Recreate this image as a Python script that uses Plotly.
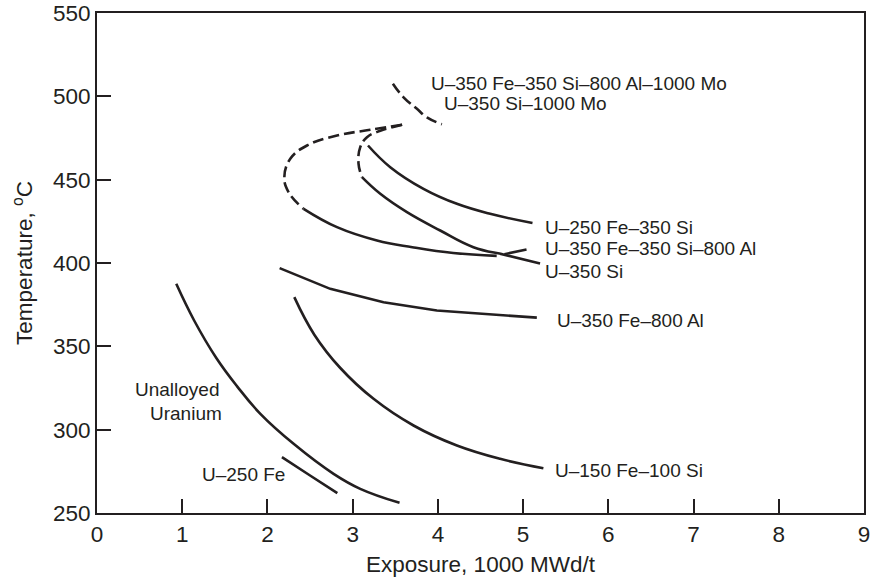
import plotly.graph_objects as go

# ---- data (exposure in 1000 MWd/t, temperature in degC) ----
unalloyed_x = [0.93, 1.14, 1.40, 1.644, 1.917, 2.307, 2.776, 3.089, 3.55]
unalloyed_y = [387.5, 365.5, 343.0, 326.0, 309.5, 291.5, 273.5, 264.5, 256.1]

u250fe_x = [2.17, 2.50, 2.82]
u250fe_y = [283.5, 272.5, 261.9]

u150fe100si_x = [2.315, 2.55, 2.855, 3.245, 3.714, 4.223, 4.73, 5.238]
u150fe100si_y = [379.5, 357.0, 337.0, 318.5, 302.5, 290.5, 282.5, 276.9]

u350fe800al_x = [2.143, 2.737, 3.362, 3.988, 5.161]
u350fe800al_y = [396.9, 384.5, 376.5, 371.5, 367.2]

# U-350 Fe-350 Si-800 Al: dashed extrapolation + solid part + end hook
alfe_dash_x = [3.58, 3.206, 2.816, 2.464, 2.268, 2.198, 2.249, 2.424]
alfe_dash_y = [483.0, 479.9, 476.5, 470.5, 462.5, 451.4, 442.4, 432.5]
alfe_solid_x = [2.424, 2.816, 3.285, 3.70, 4.18, 4.69]
alfe_solid_y = [432.5, 421.5, 413.5, 409.5, 406.0, 404.3]
alfe_hook_x = [4.78, 5.04]
alfe_hook_y = [405.3, 408.1]

# U-350 Si: dashed extrapolation + solid part
si_dash_x = [3.58, 3.324, 3.168, 3.089, 3.069, 3.109]
si_dash_y = [483.0, 479.3, 475.5, 469.5, 459.5, 451.5]
si_solid_x = [3.109, 3.324, 3.637, 4.027, 4.417, 4.80, 5.199]
si_solid_y = [451.5, 441.5, 430.5, 419.5, 409.5, 404.7, 399.7]

# U-250 Fe-350 Si
fesi_x = [3.18, 3.441, 3.831, 4.223, 4.613, 5.11]
fesi_y = [470.5, 457.5, 444.5, 435.5, 429.5, 424.0]

# Mo alloys (dashed)
mo_x = [3.472, 3.597, 3.754, 3.871, 4.047]
mo_y = [507.6, 499.4, 492.5, 487.4, 483.2]

# labels
label_text = ["U\u2013350 Fe\u2013350 Si\u2013800 Al\u20131000 Mo", "U\u2013350 Si\u20131000 Mo",
              "U\u2013250 Fe\u2013350 Si", "U\u2013350 Fe\u2013350 Si\u2013800 Al", "U\u2013350 Si",
              "U\u2013350 Fe\u2013800 Al", "U\u2013150 Fe\u2013100 Si", "U\u2013250 Fe"]
label_x = [3.89, 4.047, 5.238, 5.238, 5.238, 5.375, 5.355, 1.213]
label_y = [507.5, 495.5, 421.4, 408.5, 395.1, 365.5, 275.5, 273.1]

center_text = ["Unalloyed", "Uranium"]
center_x = [0.95, 1.047]
center_y = [323.9, 309.9]

x_ticks = [0, 1, 2, 3, 4, 5, 6, 7, 8, 9]
y_ticks = [250, 300, 350, 400, 450, 500, 550]

INK = "#231f20"
FONT = "Liberation Sans, Arial, sans-serif"
LW = 2.6
DASH = "11px,5px"
AX_FS = 22.5

fig = go.Figure()

def add(x, y, dash="solid", shape="spline"):
    line = dict(color=INK, width=LW, dash=dash, shape=shape)
    if shape == "spline":
        line["smoothing"] = 1.2
    fig.add_trace(go.Scatter(x=x, y=y, mode="lines", showlegend=False, hoverinfo="skip",
                             line=line, cliponaxis=False))

add(unalloyed_x, unalloyed_y)
add(u250fe_x, u250fe_y)
add(u150fe100si_x, u150fe100si_y)
add(u350fe800al_x, u350fe800al_y, shape="linear")
add(alfe_dash_x, alfe_dash_y, dash=DASH)
add(alfe_solid_x, alfe_solid_y)
add(alfe_hook_x, alfe_hook_y, shape="linear")
add(si_dash_x, si_dash_y, dash=DASH)
add(si_solid_x, si_solid_y)
add(fesi_x, fesi_y)
add(mo_x, mo_y, dash=DASH)

for t, x, y in zip(label_text, label_x, label_y):
    fig.add_annotation(x=x, y=y, text=t, showarrow=False, xanchor="left", yanchor="middle",
                       font=dict(size=19, color=INK, family=FONT))
for t, x, y in zip(center_text, center_x, center_y):
    fig.add_annotation(x=x, y=y, text=t, showarrow=False, xanchor="center", yanchor="middle",
                       font=dict(size=19, color=INK, family=FONT))

fig.update_layout(
    width=873, height=577,
    margin=dict(l=97, r=9, t=13, b=64, autoexpand=False),
    paper_bgcolor="white", plot_bgcolor="white",
    font=dict(family=FONT, color=INK, size=AX_FS),
)
fig.update_xaxes(range=[0, 9], tickvals=x_ticks, ticks="inside", ticklen=14, tickwidth=1.5,
                 tickcolor=INK, showline=True, linecolor=INK, linewidth=2, mirror=True,
                 showgrid=False, zeroline=False, automargin=False,
                 title=dict(text="Exposure, 1000 MWd/t", font=dict(size=AX_FS), standoff=12),
                 tickfont=dict(size=AX_FS))
fig.update_yaxes(range=[250, 550], tickvals=y_ticks, ticks="inside", ticklen=14, tickwidth=1.5,
                 tickcolor=INK, showline=True, linecolor=INK, linewidth=2, mirror=True,
                 showgrid=False, zeroline=False, automargin=False,
                 title=dict(text="Temperature, <sup>o</sup>C", font=dict(size=AX_FS), standoff=14),
                 tickfont=dict(size=AX_FS))

fig.write_html("out.html", config={"displayModeBar": False},
               post_script="document.body.style.margin='0';")
